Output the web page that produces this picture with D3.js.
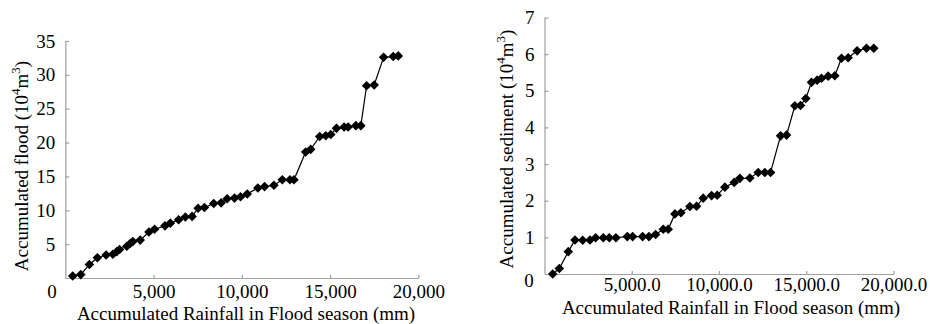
<!DOCTYPE html>
<html>
<head>
<meta charset="utf-8">
<script src="https://cdn.jsdelivr.net/npm/d3@7"></script>
<style>
  html, body { margin: 0; padding: 0; background: #fff; }
  svg { display: block; }
  svg text { font-family: "Liberation Serif", "Times New Roman", Times, "DejaVu Serif", serif !important; fill: #000; }
</style>
</head>
<body>
<svg id="chart" width="930" height="324"></svg>
<script>
// ---- Data ----
const rainfallFlood = [420, 875, 1364, 1818, 2313, 2693, 2920, 3072, 3488, 3677, 3828, 4245, 4737, 5057, 5648, 5950, 6420, 6800, 7182, 7523, 7881, 8410, 8829, 9170, 9586, 9927, 10307, 10910, 11290, 11820, 12295, 12728, 12955, 13620, 13904, 14415, 14756, 15040, 15364, 15796, 16024, 16461, 16745, 17070, 17500, 18034, 18580, 18865];
const accumulatedFlood = [0.3, 0.5, 2.0, 3.0, 3.4, 3.5, 3.9, 4.2, 4.7, 5.1, 5.4, 5.6, 6.8, 7.2, 7.7, 8.1, 8.6, 9.0, 9.1, 10.3, 10.4, 11.0, 11.1, 11.7, 11.8, 12.0, 12.4, 13.3, 13.5, 13.7, 14.5, 14.5, 14.5, 18.6, 19.0, 20.9, 21.0, 21.2, 22.1, 22.3, 22.3, 22.5, 22.5, 28.4, 28.5, 32.6, 32.7, 32.8];

const rainfallSediment = [470, 848, 1363, 1747, 2188, 2606, 2932, 3368, 3712, 4095, 4743, 5050, 5624, 5985, 6368, 6806, 7090, 7474, 7818, 8333, 8716, 9096, 9576, 9898, 10337, 10870, 11196, 11769, 12245, 12628, 12955, 13527, 13871, 14346, 14672, 14976, 15302, 15624, 15875, 16255, 16637, 17020, 17400, 17915, 18452, 18870];
const accumulatedSediment = [0.0, 0.15, 0.61, 0.93, 0.92, 0.93, 0.99, 0.99, 0.99, 0.99, 1.02, 1.02, 1.02, 1.02, 1.08, 1.22, 1.22, 1.64, 1.67, 1.84, 1.85, 2.07, 2.14, 2.15, 2.37, 2.50, 2.61, 2.62, 2.77, 2.77, 2.77, 3.77, 3.79, 4.59, 4.60, 4.79, 5.23, 5.29, 5.34, 5.40, 5.41, 5.89, 5.90, 6.09, 6.16, 6.16];

const floodXTicks = [5000, 10000, 15000, 20000];
const floodYTicks = [5, 10, 15, 20, 25, 30, 35];
const sedimentXTicks = [5000, 10000, 15000, 20000];
const sedimentYTicks = [1, 2, 3, 4, 5, 6, 7];

const xTitle = "Accumulated Rainfall in Flood season (mm)";

// ---- Drawing ----
const svg = d3.select("#chart");
const AXIS_COLOR = "#a0a0a0";
const FONT = 19;
const SUP = 13;
const FAMILY = '"Liberation Serif", "Times New Roman", Times, "DejaVu Serif", serif';

function drawPanel(cfg) {
  const x = d3.scaleLinear().domain([0, 20000]).range([cfg.left, cfg.right]);
  const y = d3.scaleLinear().domain([0, cfg.yMax]).range([cfg.bottom, cfg.top]);
  const g = svg.append("g").attr("font-family", FAMILY);

  const xAxis = d3.axisBottom(x)
    .tickValues(cfg.xTicks)
    .tickFormat(cfg.xFormat)
    .tickSizeInner(-3)
    .tickSizeOuter(0)
    .tickPadding(cfg.xPad);
  const gx = g.append("g").attr("transform", `translate(0,${cfg.bottom})`).call(xAxis);

  const yAxis = d3.axisLeft(y)
    .tickValues(cfg.yTicks)
    .tickFormat(d3.format("d"))
    .tickSizeInner(-4)
    .tickSizeOuter(0)
    .tickPadding(6 + 4);
  const gy = g.append("g").attr("transform", `translate(${cfg.left},0)`).call(yAxis);

  [gx, gy].forEach(a => {
    a.attr("font-family", FAMILY).attr("font-size", FONT);
    a.select(".domain").attr("stroke", AXIS_COLOR).attr("stroke-width", 1.2);
    a.selectAll(".tick line").attr("stroke", AXIS_COLOR).attr("stroke-width", 1.2);
    a.selectAll(".tick text").attr("fill", "#000");
  });

  // zero label
  g.append("text")
    .attr("x", cfg.zeroX).attr("y", cfg.zeroY)
    .attr("text-anchor", "middle")
    .attr("dominant-baseline", "middle")
    .attr("font-size", FONT)
    .text("0");

  // line
  const pts = cfg.xs.map((v, i) => [v, cfg.ys[i]]);
  g.append("path")
    .datum(pts)
    .attr("fill", "none")
    .attr("stroke", "#000")
    .attr("stroke-width", 1.2)
    .attr("d", d3.line().x(d => x(d[0])).y(d => y(d[1])));

  // diamond markers
  const sym = d3.symbol().type(d3.symbolSquare).size(46);
  g.selectAll("path.mk")
    .data(pts)
    .join("path")
    .attr("class", "mk")
    .attr("d", sym)
    .attr("fill", "#000")
    .attr("transform", d => `translate(${x(d[0])},${y(d[1])}) rotate(45)`);

  // x title
  g.append("text")
    .attr("x", cfg.xTitleX).attr("y", cfg.xTitleY)
    .attr("text-anchor", "middle")
    .attr("font-size", FONT)
    .text(xTitle);

  // y title with superscripts
  const yt = g.append("text")
    .attr("transform", `translate(${cfg.yTitleX},${cfg.yTitleY}) rotate(-90)`)
    .attr("text-anchor", "middle")
    .attr("font-size", FONT);
  yt.append("tspan").text(cfg.yTitle + " (10");
  yt.append("tspan").attr("font-size", SUP).attr("dy", -8).text("4");
  yt.append("tspan").attr("dy", 8).text("m");
  yt.append("tspan").attr("font-size", SUP).attr("dy", -8).text("3");
  yt.append("tspan").attr("dy", 8).text(")");
}

drawPanel({
  xs: rainfallFlood, ys: accumulatedFlood,
  left: 65.3, right: 418.3, top: 41, bottom: 278, yMax: 35,
  xTicks: floodXTicks, yTicks: floodYTicks,
  xFormat: d3.format(","), xPad: 7,
  zeroX: 52, zeroY: 294,
  xTitleX: 246, xTitleY: 320,
  yTitle: "Accumulated flood", yTitleX: 28, yTitleY: 166
});

drawPanel({
  xs: rainfallSediment, ys: accumulatedSediment,
  left: 544.5, right: 893.5, top: 17.5, bottom: 274, yMax: 7,
  xTicks: sedimentXTicks, yTicks: sedimentYTicks,
  xFormat: d3.format(",.1f"), xPad: 4,
  zeroX: 529, zeroY: 283,
  xTitleX: 731, xTitleY: 314,
  yTitle: "Accumulated sediment", yTitleX: 513, yTitleY: 149
});
</script>
</body>
</html>
